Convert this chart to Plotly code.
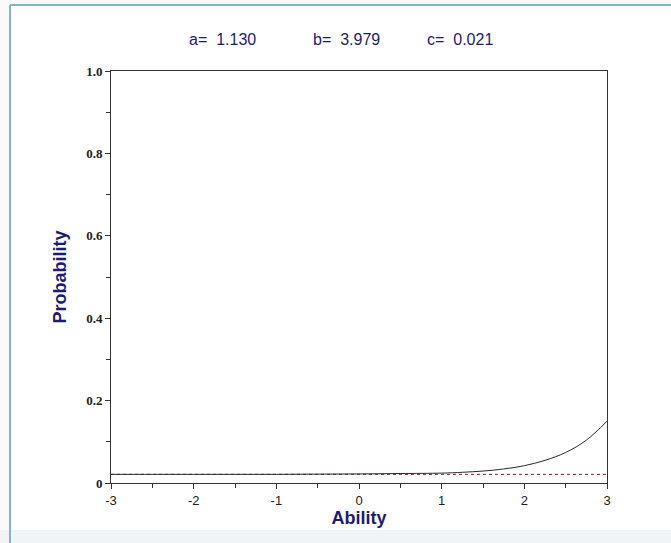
import plotly.graph_objects as go

# Item parameters (shown in header)
param_labels = ["a=  1.130", "b=  3.979", "c=  0.021"]
c_value = 0.021

# Ability values and probabilities
ability = [-3.0, -2.5, -2.0, -1.5, -1.0, -0.5, 0.0, 0.5, 1.0, 1.25, 1.5, 1.75, 2.0, 2.25, 2.5, 2.75, 3.0]
probability = [0.021, 0.021, 0.021, 0.021, 0.021, 0.0215, 0.022, 0.023, 0.024, 0.026, 0.029, 0.034, 0.042, 0.055, 0.074, 0.104, 0.150]

# Guessing level line
guess_x = [-3, 3]
guess_y = [c_value, c_value]

y_tickvals = [0, 0.2, 0.4, 0.6, 0.8, 1.0]
y_ticktext = ["0", "0.2", "0.4", "0.6", "0.8", "1.0"]
x_tickvals = [-3, -2, -1, 0, 1, 2, 3]
x_ticktext = ["-3", "-2", "-1", "0", "1", "2", "3"]

navy = "#1c1c78"

fig = go.Figure()
fig.add_trace(go.Scatter(x=guess_x, y=guess_y, mode="lines",
                         line=dict(color="#8b1a1a", width=1, dash="dot"),
                         hoverinfo="skip", showlegend=False))
fig.add_trace(go.Scatter(x=ability, y=probability, mode="lines",
                         line=dict(color="#2a2a2a", width=1, shape="spline"),
                         showlegend=False))

L, R, T, B = 111, 64, 71, 60
W, H = 671, 543
pw, ph = W - L - R, H - T - B

def px(xp):
    return (xp - L) / pw

def py(yp):
    return (H - B - yp) / ph

# Background frame: white box with teal top/left borders and pale band below
fig.add_shape(type="rect", xref="paper", yref="paper",
              x0=px(-5), x1=px(700), y0=py(560), y1=py(530),
              fillcolor="#f0f4f7", line=dict(width=0), layer="below")
fig.add_shape(type="rect", xref="paper", yref="paper",
              x0=px(10), x1=px(700), y0=py(530), y1=py(5),
              fillcolor="white", line=dict(width=0), layer="below")
fig.add_shape(type="line", xref="paper", yref="paper",
              x0=px(10), x1=px(700), y0=py(5), y1=py(5),
              line=dict(color="#86b6bb", width=2), layer="below")
fig.add_shape(type="line", xref="paper", yref="paper",
              x0=px(10), x1=px(10), y0=py(560), y1=py(5),
              line=dict(color="#86b6bb", width=2), layer="below")

centers = [222, 346, 460]
for lab, cx in zip(param_labels, centers):
    fig.add_annotation(text=lab, x=px(cx), y=py(40), xref="paper", yref="paper",
                       showarrow=False, xanchor="center", yanchor="middle",
                       font=dict(family="Liberation Sans, Arial", size=16, color=navy))

fig.update_layout(
    width=W, height=H,
    margin=dict(l=L, r=R, t=T, b=B),
    paper_bgcolor="#f8fafb",
    plot_bgcolor="white",
    xaxis=dict(range=[-3, 3], tickvals=x_tickvals, ticktext=x_ticktext,
               showgrid=False, zeroline=False, showline=True, linecolor="#333",
               linewidth=1, mirror=True, ticks="outside", ticklen=5, tickcolor="#333",
               tickfont=dict(family="Liberation Sans Narrow, Liberation Sans, Arial", size=13, color="#222"),
               minor=dict(dtick=0.5, tick0=-3, ticks="outside", ticklen=4, tickcolor="#333", showgrid=False),
               title=dict(text="<b>Ability</b>", standoff=4,
                          font=dict(family="Liberation Sans, Arial", size=18, color=navy))),
    yaxis=dict(range=[0, 1], tickvals=y_tickvals, ticktext=y_ticktext,
               showgrid=False, zeroline=False, showline=True, linecolor="#333",
               linewidth=1, mirror=True, ticks="outside", ticklen=5, tickcolor="#333",
               tickfont=dict(family="Liberation Serif, Times New Roman", size=13, color="#222", weight="bold"),
               minor=dict(dtick=0.1, tick0=0, ticks="outside", ticklen=4, tickcolor="#333", showgrid=False),
               title=dict(text="<b>Probability</b>", standoff=14,
                          font=dict(family="Liberation Sans, Arial", size=18, color=navy))),
)

fig.write_html("out.html")
